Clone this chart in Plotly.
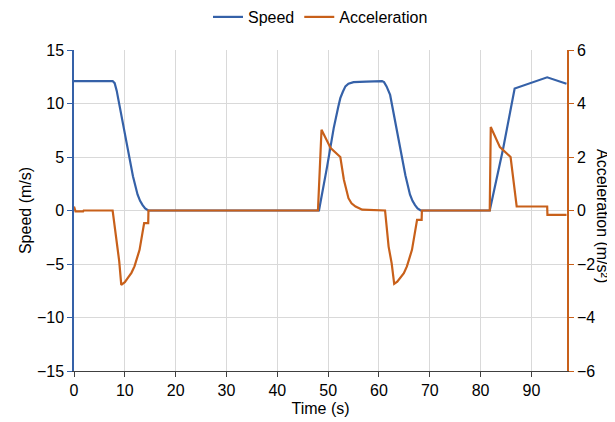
import plotly.graph_objects as go

# Speed series (time in s, speed in m/s)
speed_time = [0, 7.6, 8.0, 8.4, 8.8, 9.6, 10.6, 11.6, 12.5, 13.0, 13.5, 14.0, 14.6,
              48.2, 49.8, 51.1, 52.0, 52.4, 52.9, 53.4, 54.0, 55.0, 57.5, 60.6,
              61.0, 61.5, 62.2, 63.2, 64.2, 65.2, 66.1, 66.6, 67.1, 67.6, 68.2,
              81.8, 84.4, 86.7, 93.1, 96.9]
speed_vals = [12.1, 12.1, 11.9, 11.2, 10.2, 8.2, 5.7, 3.2, 1.5, 0.9, 0.5, 0.2, 0.0,
              0.0, 4.1, 7.7, 9.7, 10.5, 11.1, 11.6, 11.85, 12.0, 12.05, 12.1,
              12.0, 11.6, 10.8, 8.2, 5.7, 3.3, 1.5, 0.9, 0.5, 0.2, 0.0,
              0.0, 5.7, 11.4, 12.45, 11.85]

# Acceleration series (time in s, acceleration in m/s^2)
accel_time = [0, 0.3, 1.8, 1.9, 7.6, 8.9, 9.3, 10.0, 10.6, 11.3, 11.9, 12.9, 13.8, 14.6, 14.65,
              48.0, 48.7, 50.5, 52.4, 53.1, 54.0, 54.6, 55.4, 56.7, 61.2, 61.9, 62.5, 63.0, 63.6,
              64.2, 64.9, 65.5, 66.5, 67.5, 68.4, 68.45, 81.8, 82.0, 83.8, 85.9, 87.1, 93.1, 93.15, 96.9]
accel_vals = [0.15, -0.03, -0.03, 0.0, 0.0, -1.9, -2.78, -2.68, -2.52, -2.33, -2.09, -1.47, -0.47, -0.47, 0.0,
              0.0, 3.02, 2.33, 2.0, 1.15, 0.46, 0.27, 0.15, 0.03, 0.0, -1.35, -1.97, -2.74, -2.66,
              -2.53, -2.34, -2.09, -1.47, -0.35, -0.35, 0.0, 0.0, 3.12, 2.37, 2.0, 0.15, 0.15, -0.16, -0.16]

x_ticks = [0, 10, 20, 30, 40, 50, 60, 70, 80, 90]
speed_ticks = [-15, -10, -5, 0, 5, 10, 15]
accel_ticks = [-6, -4, -2, 0, 2, 4, 6]

BLUE = "#3561A8"
ORANGE = "#C8601A"
GRID = "#D9D9D9"
FONT = "Liberation Sans, Arial, sans-serif"
FS = 16

# page has an 8px body margin; size the figure so the plot area lands where the reference has it
W, H = 607, 414
L, R, T, B = 66, 48, 42, 51
PW, PH = W - L - R, H - T - B

fig = go.Figure()
fig.add_trace(go.Scatter(x=speed_time, y=speed_vals, mode="lines", name="Speed",
                         line=dict(color=BLUE, width=2.2), yaxis="y"))
fig.add_trace(go.Scatter(x=accel_time, y=accel_vals, mode="lines", name="Acceleration",
                         line=dict(color=ORANGE, width=2.2), yaxis="y2"))

fig.update_layout(
    width=W, height=H,
    margin=dict(l=L, r=R, t=T, b=B, autoexpand=False),
    paper_bgcolor="white", plot_bgcolor="white",
    font=dict(family=FONT, size=FS, color="#000000"),
    showlegend=True,
    legend=dict(orientation="h", x=0.5, xanchor="center", y=1 - 9 / H, yanchor="middle",
                yref="container", font=dict(size=FS), itemwidth=30),
    xaxis=dict(range=[0, 97], tickvals=x_ticks, showgrid=True, gridcolor=GRID, gridwidth=1,
               zeroline=False, showline=True, linecolor="#404040", linewidth=1,
               ticks="outside", ticklen=5, tickcolor="#404040", automargin=False,
               tickfont=dict(size=FS),
               title=dict(text="Time (s)", font=dict(size=FS), standoff=4)),
    yaxis=dict(range=[-15, 15], tickvals=speed_ticks, showgrid=True, gridcolor=GRID, gridwidth=1,
               zeroline=False, showline=True, linecolor=BLUE, linewidth=1.5,
               ticks="outside", ticklen=5, tickcolor=BLUE, automargin=False,
               tickfont=dict(size=FS),
               title=dict(text="Speed (m/s)", font=dict(size=FS), standoff=1)),
    yaxis2=dict(range=[-6, 6], tickvals=accel_ticks, overlaying="y", side="right",
                showgrid=False, zeroline=False, showline=True, linecolor=ORANGE, linewidth=1.5,
                ticks="outside", ticklen=5, tickcolor=ORANGE, automargin=False,
                tickfont=dict(size=FS)),
    annotations=[dict(text="Acceleration (m/s²)", textangle=90,
                      x=(595 - L) / PW, y=(H - B - 208) / PH,
                      xref="paper", yref="paper", showarrow=False,
                      xanchor="center", yanchor="middle",
                      font=dict(size=FS, family=FONT))],
)

fig.write_html("out.html")
